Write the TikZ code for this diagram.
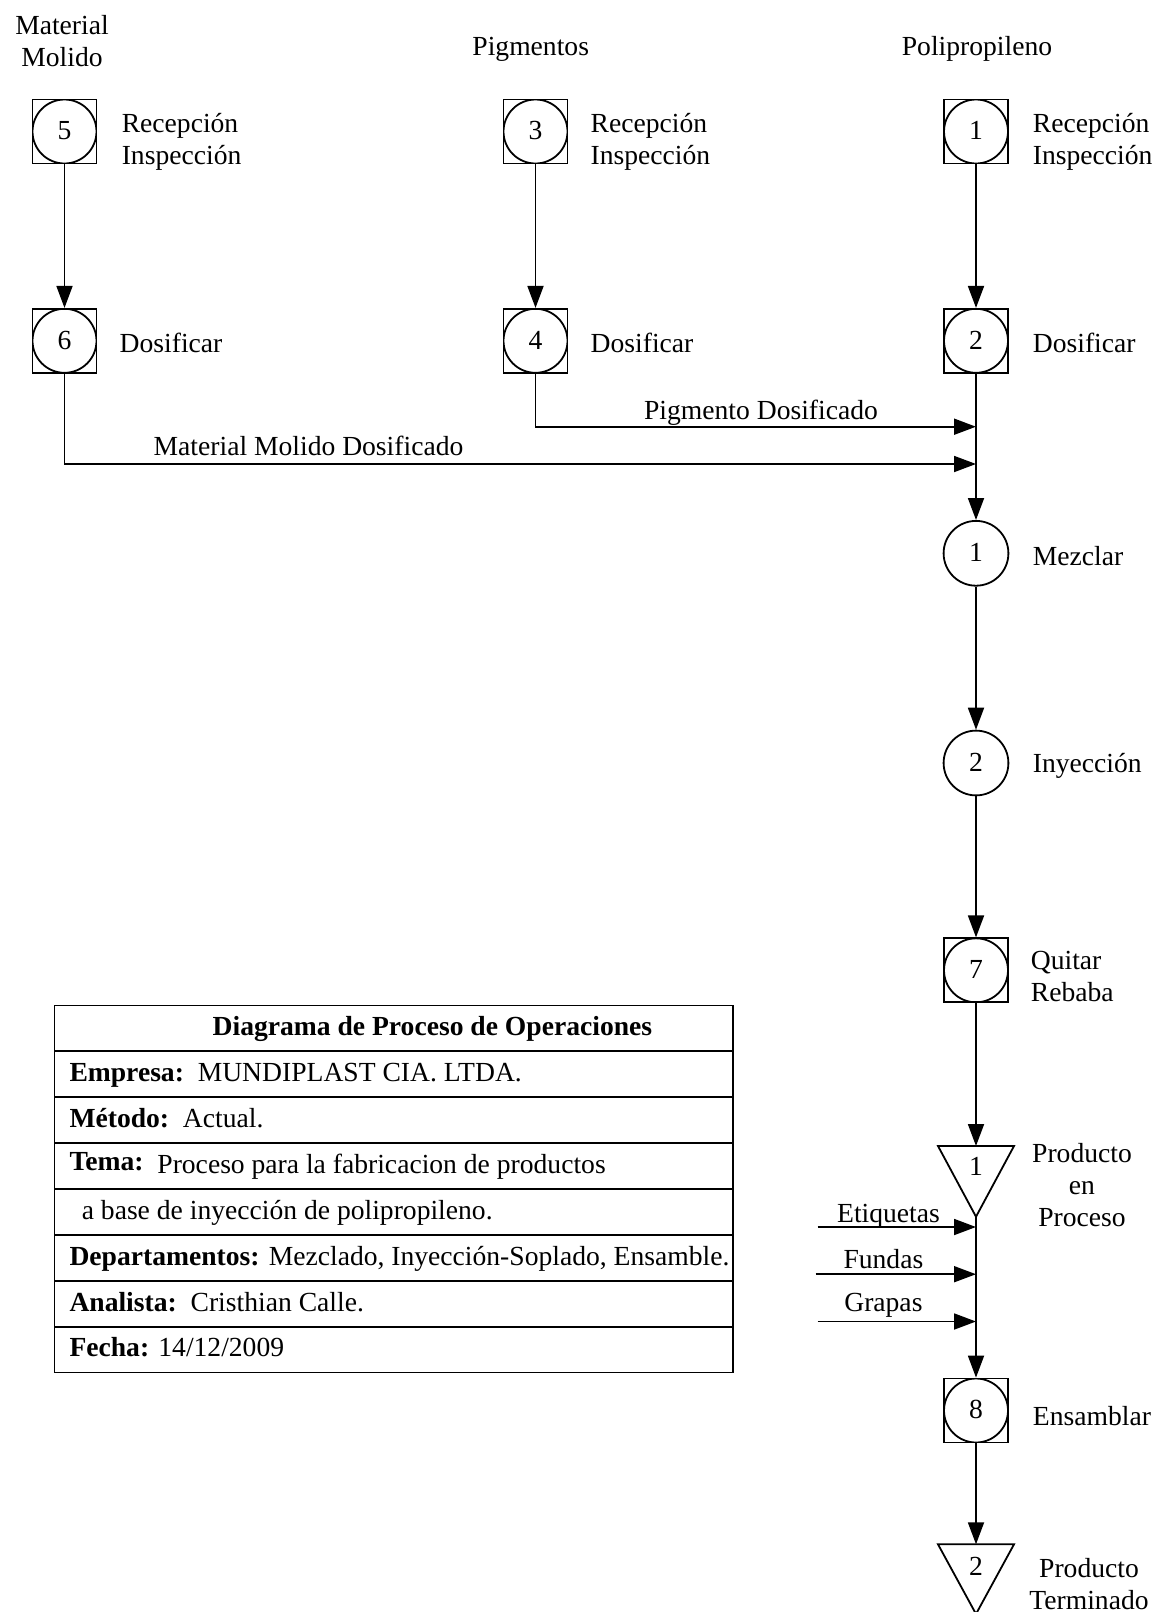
\documentclass[tikz,border=0pt]{standalone}
\usepackage{fontspec}
\setmainfont{Liberation Serif}
\usetikzlibrary{arrows.meta}
\begin{document}
\begin{tikzpicture}[x=0.5pt,y=-0.5pt,
  every node/.style={font=\fontsize{13.8}{16}\selectfont},
  lw/.style={line width=0.9pt},
  opsq/.style={lw, draw, rectangle, minimum size=32pt, inner sep=0pt,
    text height=0.82em, text depth=0em,
    path picture={\draw[line width=0.9pt] (path picture bounding box.center) circle[radius=16pt];}},
  opcirc/.style={lw, draw, circle, minimum size=32.4pt, inner sep=0pt,
    text height=0.82em, text depth=0em},
  arr/.style={lw, -{Triangle[length=11pt,width=8pt]}},
  txt/.style={inner sep=0pt, yshift=-1.3pt},
  lbl/.style={txt, anchor=west, align=left},
  clbl/.style={txt, align=center},
  rowbox/.style={lw, draw, minimum width=339.35pt, minimum height=22.94pt, inner sep=0pt},
  cell/.style={anchor=west, inner sep=0pt, yshift=-0.8pt, text height=0.72em, text depth=0.14em},
]
\useasboundingbox (0,0) rectangle (1157,1612);

% column headings
\node[clbl] (hMM) at (62,38.5) {Material\\Molido};
\node[clbl] (hPG) at (530.7,46.3) {Pigmentos};
\node[clbl] (hPP) at (977,46.3) {Polipropileno};

% reception / inspection
\node[opsq] (s5) at (64.5,131.5) {5};
\node[opsq] (s3) at (535.5,131.5) {3};
\node[opsq] (s1) at (976,131.5) {1};
\node[lbl] (l5) at (121.4,139) {Recepción\\Inspección};
\node[lbl] (l3) at (590.3,139) {Recepción\\Inspección};
\node[lbl] (l1) at (1032.5,139) {Recepción\\Inspección};

% dosing
\node[opsq] (s6) at (64.5,340.8) {6};
\node[opsq] (s4) at (535.5,340.8) {4};
\node[opsq] (s2) at (976,340.8) {2};
\node[lbl] (l6) at (119.3,340.4) {Dosificar};
\node[lbl] (l4) at (590.3,340.4) {Dosificar};
\node[lbl] (l2) at (1032.5,340.4) {Dosificar};

% main line operations
\node[opcirc] (m1) at (976,553.3) {1};
\node[lbl] (lm1) at (1032.5,553.3) {Mezclar};
\node[opcirc] (m2) at (976,763) {2};
\node[lbl] (lm2) at (1032.5,763) {Inyección};
\node[opsq] (s7) at (976,970.3) {7};
\node[lbl] (l7) at (1030.5,973.4) {Quitar\\Rebaba};

% storage 1
\coordinate (t1top) at (976,1146);
\coordinate (t1apex) at (976,1216.7);
\draw[lw] (t1top) ++(-38,0) -- ++(76,0) -- (t1apex) -- cycle;
\node (t1num) at (976,1166.7) {1};
\node[clbl] (lt1) at (1082,1182.6) {Producto\\en\\Proceso};

% assembly
\node[opsq] (s8) at (976,1410.5) {8};
\node[lbl] (l8) at (1032.5,1413) {Ensamblar};

% storage 2
\coordinate (t2top) at (976,1544.3);
\coordinate (t2apex) at (976,1614);
\draw[lw] (t2top) ++(-38,0) -- ++(76,0) -- (t2apex) -- cycle;
\node (t2num) at (976,1566.7) {2};
\node[clbl] (lt2) at (1089,1581) {Producto\\Terminado};

% junctions on the main line
\coordinate (jp) at (976,426.7);
\coordinate (jm) at (976,464);

% connectors
\draw[arr] (s5) -- (s6);
\draw[arr] (s3) -- (s4);
\draw[arr] (s1) -- (s2);
\draw[arr] (s2) -- (m1);
\draw[arr] (s4.south) |- (jp);
\draw[arr] (s6.south) |- (jm);
\node[txt] (lpd) at (761,410) {Pigmento Dosificado};
\node[txt] (lmd) at (308.5,443) {Material Molido Dosificado};
\draw[arr] (m1) -- (m2);
\draw[arr] (m2) -- (s7);
\draw[arr] (s7) -- (t1top);
\draw[arr] (t1apex) -- (s8);
\draw[arr] (s8) -- (t2top);

% incoming materials at assembly
\coordinate (etq) at (817.6,1227);
\coordinate (etqE) at (976,1227);
\coordinate (fun) at (815.5,1274.2);
\coordinate (funE) at (976,1274.2);
\coordinate (gra) at (817.6,1321.5);
\coordinate (graE) at (976,1321.5);
\draw[arr] (etq) -- (etqE);
\draw[arr] (fun) -- (funE);
\draw[arr] (gra) -- (graE);
\node[txt] (letq) at (888.5,1213.5) {Etiquetas};
\node[txt] (lfun) at (883.4,1256.7) {Fundas};
\node[txt] (lgra) at (883.4,1303) {Grapas};

% header table
\foreach \i in {1,...,8}
  \node[rowbox] (r\i) at (393.85,{1005.5+45.875*(\i-0.5)}) {};
\node[cell, anchor=center, font=\fontsize{13.8}{16}\selectfont\bfseries] (c1) at (432.4,1028.4) {Diagrama de Proceso de Operaciones};
\node[cell] (c2) at ([xshift=7.75pt]r2.west) {\textbf{Empresa:}\ \ MUNDIPLAST CIA. LTDA.};
\node[cell] (c3) at ([xshift=7.75pt]r3.west) {\textbf{Método:}\ \ Actual.};
\node[cell] (c4) at ([xshift=7.75pt]r4.west) {\raisebox{1.6pt}{\textbf{Tema:}}\ \ Proceso para la fabricacion de productos};
\node[cell] (c5) at ([xshift=13.9pt]r5.west) {a base de inyección de polipropileno.};
\node[cell] (c6) at ([xshift=7.75pt]r6.west) {\textbf{Departamentos:} Mezclado, Inyección-Soplado, Ensamble.};
\node[cell] (c7) at ([xshift=7.75pt]r7.west) {\textbf{Analista:}\ \ Cristhian Calle.};
\node[cell] (c8) at ([xshift=7.75pt]r8.west) {\textbf{Fecha:} 14/12/2009};
\end{tikzpicture}
\end{document}
